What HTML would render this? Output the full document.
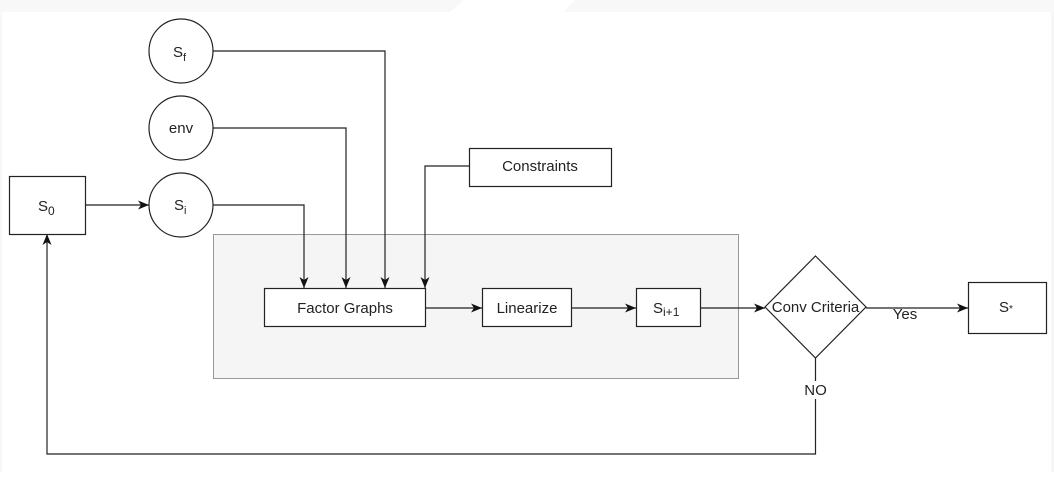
<!DOCTYPE html>
<html><head><meta charset="utf-8"><style>
html,body{margin:0;padding:0;background:#fff;}
svg text{font-family:"Liberation Sans",sans-serif;font-size:15px;fill:#222;}
</style></head><body>
<svg width="1054" height="472" viewBox="0 0 1054 472" xmlns="http://www.w3.org/2000/svg">
<defs><marker id="a" markerWidth="12" markerHeight="12" refX="11" refY="6" orient="auto" markerUnits="userSpaceOnUse"><path d="M0,1.5 L11,6 L0,10.5 L3,6 Z" fill="#111"/></marker></defs>
<rect width="1054" height="472" fill="#fff"/>
<polygon points="0,0 464,0 450,12 0,12" fill="#f8f8f8"/>
<polygon points="575,0 1054,0 1054,12 563,12" fill="#f8f8f8"/>
<rect x="0" y="12" width="2" height="460" fill="#f8f8f8"/>
<rect x="1051" y="12" width="3" height="460" fill="#f6f6f6"/>
<rect x="213.5" y="234.5" width="525" height="144" fill="#f5f5f5" stroke="#999" stroke-width="1"/>
<g fill="none" stroke="#222" stroke-width="1.2">
<path d="M213,51 H385 V288" marker-end="url(#a)"/>
<path d="M213,128 H346 V288" marker-end="url(#a)"/>
<path d="M213,205 H304 V288" marker-end="url(#a)"/>
<path d="M469,166 H425 V288" marker-end="url(#a)"/>
<path d="M86,205 H149" marker-end="url(#a)"/>
<path d="M425,308 H482" marker-end="url(#a)"/>
<path d="M572,308 H636" marker-end="url(#a)"/>
<path d="M700,308 H765" marker-end="url(#a)"/>
<path d="M866,308 H968" marker-end="url(#a)"/>
<path d="M815.5,358 V454 H47 V234" marker-end="url(#a)"/>
</g>
<g fill="#fff" stroke="#222" stroke-width="1.2">
<circle cx="181" cy="51" r="32"/>
<circle cx="181" cy="128" r="32"/>
<circle cx="181" cy="205" r="32"/>
<rect x="9.5" y="176.5" width="76" height="58"/>
<rect x="469.5" y="148.5" width="142" height="38"/>
<rect x="264.5" y="288.5" width="161" height="38"/>
<rect x="482.5" y="288.5" width="89" height="38"/>
<rect x="636.5" y="288.5" width="64" height="38"/>
<polygon points="815.5,256 866,307 815.5,358 765,307"/>
<rect x="968.5" y="282.5" width="78" height="51"/>
</g>
<rect x="803" y="381" width="26" height="18" fill="#fff"/>
<text x="173" y="57">S<tspan font-size="11" dy="4">f</tspan></text>
<text x="181" y="133" text-anchor="middle">env</text>
<text x="174" y="210">S<tspan font-size="11" dy="4">i</tspan></text>
<text x="38" y="211">S<tspan font-size="12" dy="4">0</tspan></text>
<text x="540" y="171" text-anchor="middle">Constraints</text>
<text x="345" y="313" text-anchor="middle">Factor Graphs</text>
<text x="527" y="313" text-anchor="middle">Linearize</text>
<text x="653" y="313">S<tspan font-size="12" dy="3">i+1</tspan></text>
<text x="815.5" y="312" text-anchor="middle">Conv Criteria</text>
<text x="905" y="319" text-anchor="middle">Yes</text>
<text x="815.5" y="395" text-anchor="middle">NO</text>
<text x="999" y="312">S<tspan font-size="10">*</tspan></text>
</svg>
</body></html>
